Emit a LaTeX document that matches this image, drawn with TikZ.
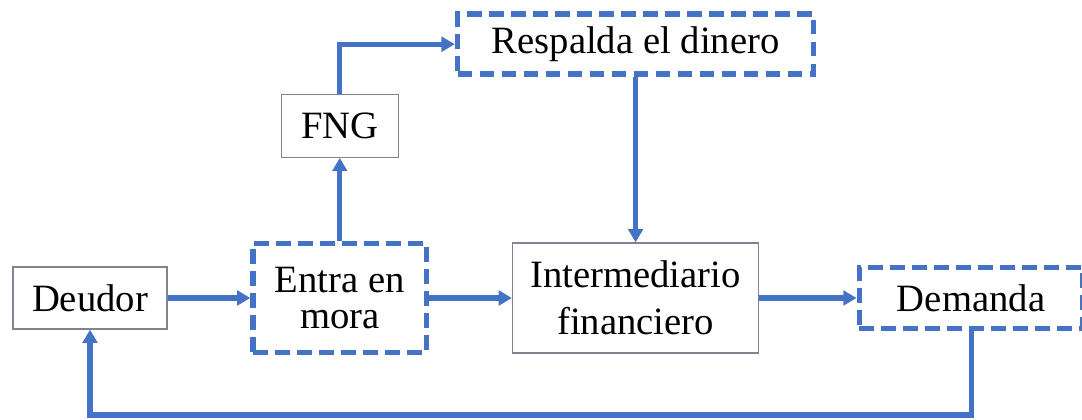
\documentclass[tikz,border=0pt]{standalone}
\usepackage{fontspec}
\setmainfont{Liberation Serif}
\usetikzlibrary{arrows.meta,positioning}
\definecolor{flujo}{HTML}{4472C4}
\definecolor{borde}{HTML}{7F8590}

\tikzset{
	caja/.style={draw=borde, line width=1pt, inner sep=0pt, align=center, font=\fontsize{29}{27}\selectfont},
	cajapunt/.style={caja, draw=flujo, line width=4.2pt, dash pattern=on 11pt off 5.5pt},
	flecha/.style={->, draw=flujo, line width=3.8pt},
}

\begin{document}
\begin{tikzpicture}[>={Triangle[length=10pt,width=11pt]}, node distance=60.75pt]
	\useasboundingbox (0,0) rectangle (811.5pt,-315pt);

	% Cajas {deudor, mora, fng, respalda, interm, demanda}
	\node [caja, minimum width=115.5pt, minimum height=46.5pt]       (deudor)  at (67.5pt,-223.5pt)  {Deudor};
	\node [cajapunt, minimum width=130pt, minimum height=82pt]       (mora)    [right=62pt of deudor] {Entra en\\mora};
	\node [caja, minimum width=87.75pt, minimum height=47.25pt]      (fng)     [above=62pt of mora]   {FNG};
	\node [caja, minimum width=184.5pt, minimum height=82.5pt, font=\fontsize{29}{35}\selectfont]
	                                                                 (interm)  [right=62pt of mora]   {Intermediario\\financiero};
	\node [cajapunt, minimum width=267pt, minimum height=45pt]       (respalda) [above=124pt of interm] {Respalda el dinero};
	\node [cajapunt, minimum width=167.5pt, minimum height=45.5pt]   (demanda) [right=73pt of interm] {Demanda};
	\coordinate (abajo) at (0,-311.25pt);

	% Flechas
	\draw [flecha] (deudor) -- (mora);
	\draw [flecha] (mora) -- (interm);
	\draw [flecha] (interm) -- (demanda);
	\draw [flecha] (mora) -- (fng);
	\draw [flecha] (fng.north) |- (respalda.west);
	\draw [flecha] (respalda) -- (interm);
	\draw [flecha] (demanda.south) -- (demanda.south |- abajo) -| (deudor.south);

\end{tikzpicture}
\end{document}
